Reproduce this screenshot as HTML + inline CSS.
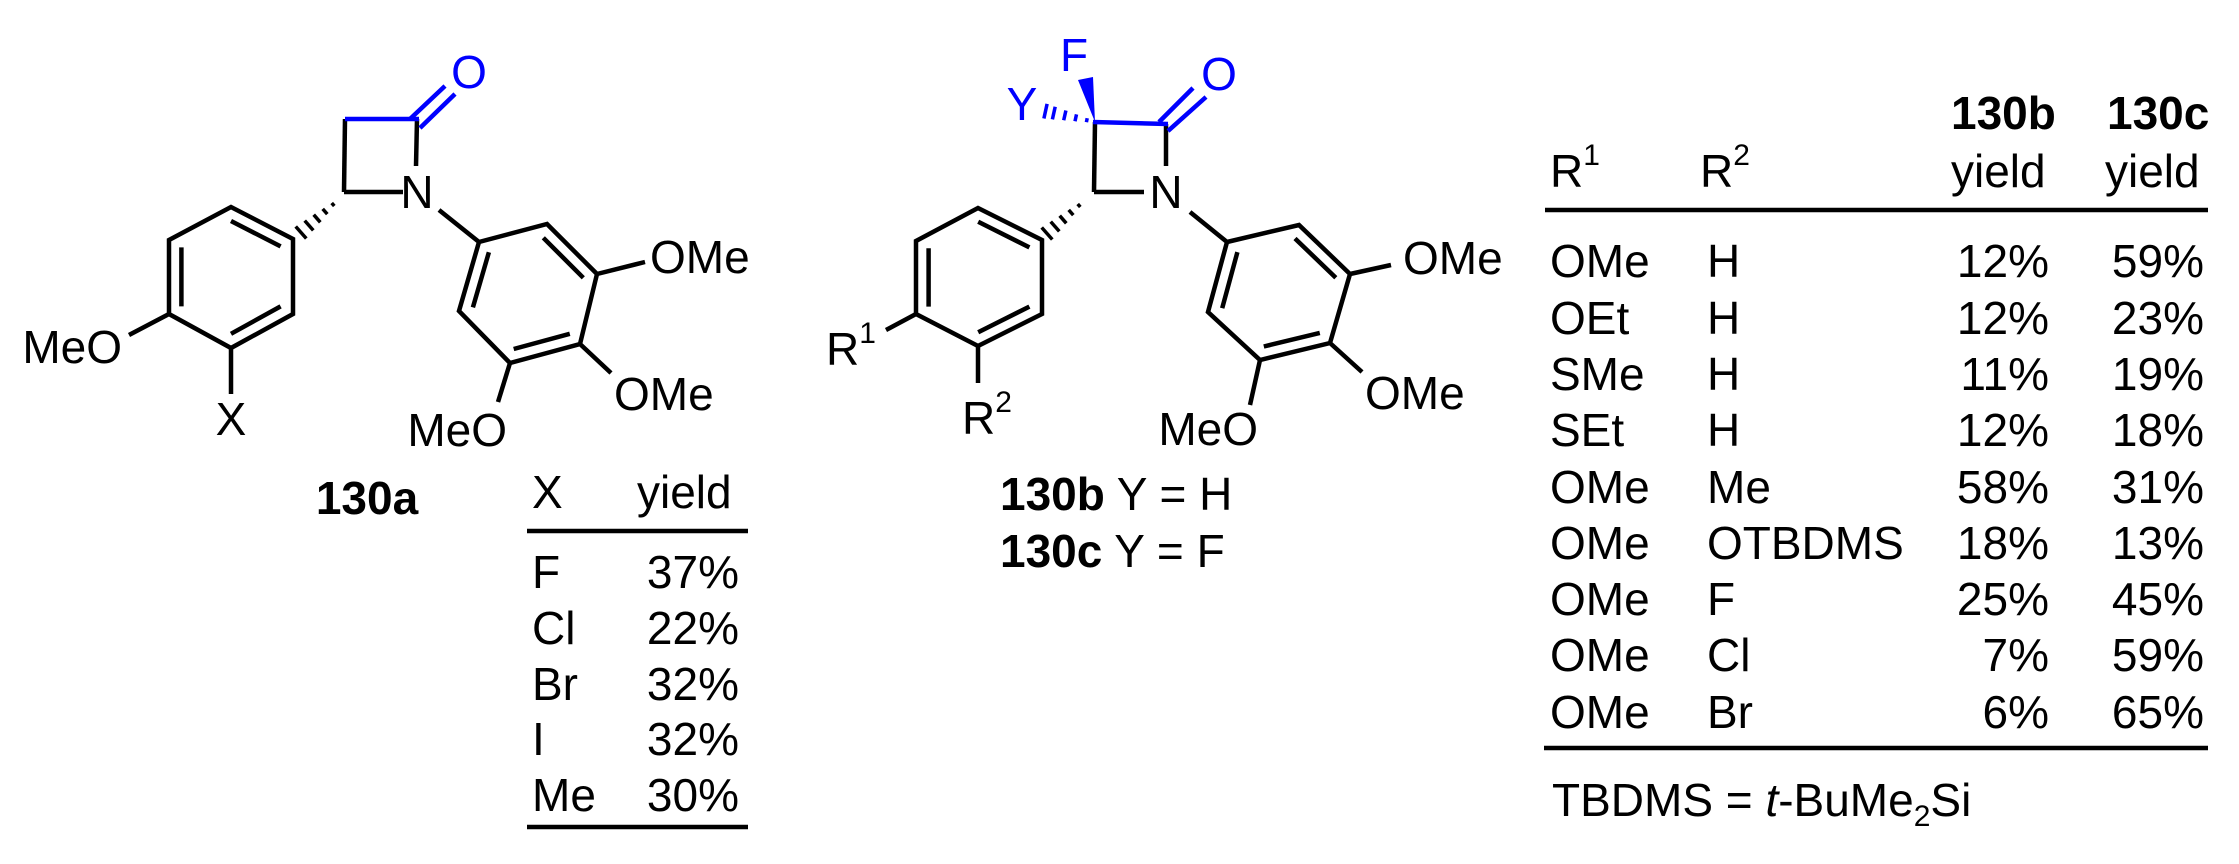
<!DOCTYPE html>
<html><head><meta charset="utf-8"><style>
html,body{margin:0;padding:0;background:#fff;}
svg{display:block;}
text{font-family:"Liberation Sans",sans-serif;font-size:46px;fill:#000;}
.b{font-weight:bold;}
.bl{fill:#0000ff;}
</style></head><body>
<svg width="2239" height="864" viewBox="0 0 2239 864" xmlns="http://www.w3.org/2000/svg">
<g stroke="#000" stroke-width="4.5" stroke-linecap="butt" fill="none">
<!-- Molecule 1 -->
<line x1="345" y1="119" x2="344" y2="192"/>
<line x1="344" y1="192" x2="403" y2="192"/>
<line x1="417" y1="119" x2="416" y2="166"/>
<polygon points="293,239 231,207 169,240 169,314 231,348 293,314" stroke-linejoin="miter"/>
<line x1="231" y1="221" x2="280.6" y2="246.4"/>
<line x1="181.4" y1="247.4" x2="181.4" y2="306.4"/>
<line x1="231" y1="333.8" x2="280.6" y2="306.4"/>
<line x1="169" y1="314" x2="129" y2="335"/>
<line x1="231" y1="348" x2="231" y2="394"/>
<line x1="439" y1="210" x2="479" y2="242"/>
<polygon points="479,242 547,224 597,274 580,344 510,363 459,311"/>
<line x1="543.3" y1="237.8" x2="583.3" y2="277.8"/>
<line x1="488.9" y1="252.2" x2="472.9" y2="307.4"/>
<line x1="513.7" y1="349" x2="569.8" y2="333.8"/>
<line x1="597" y1="274" x2="645" y2="262"/>
<line x1="580" y1="344" x2="611" y2="373"/>
<line x1="510" y1="363" x2="498" y2="402"/>
<g id="hash1" stroke-width="3.5">
<line x1="331.7" y1="203" x2="334.3" y2="206"/>
<line x1="322.7" y1="208.9" x2="327.3" y2="214.1"/>
<line x1="313.7" y1="214.7" x2="320.3" y2="222.3"/>
<line x1="304.7" y1="220.6" x2="313.3" y2="230.4"/>
<line x1="295.7" y1="226.5" x2="306.3" y2="238.5"/>
</g>
<!-- Molecule 2 -->
<line x1="1095" y1="122" x2="1094" y2="192"/>
<line x1="1094" y1="192" x2="1144" y2="192"/>
<line x1="1166" y1="124" x2="1166" y2="166"/>
<polygon points="1042,240 978,208 916,241 916,314 978,346 1042,314"/>
<line x1="978.2" y1="221.8" x2="1029.4" y2="247.4"/>
<line x1="928.6" y1="248.2" x2="928.6" y2="306.6"/>
<line x1="978.2" y1="332.2" x2="1029.4" y2="306.6"/>
<line x1="916" y1="314" x2="886" y2="330"/>
<line x1="978" y1="346" x2="978" y2="383"/>
<line x1="1190" y1="212" x2="1227" y2="242"/>
<polygon points="1227,242 1299,225 1350,274 1330,343 1260,360 1208,312"/>
<line x1="1295" y1="238.5" x2="1335.8" y2="277.7"/>
<line x1="1237.4" y1="252.1" x2="1222.2" y2="308.2"/>
<line x1="1263.8" y1="346.5" x2="1319.8" y2="332.9"/>
<line x1="1350" y1="274" x2="1391" y2="265"/>
<line x1="1330" y1="343" x2="1362" y2="372"/>
<line x1="1260" y1="360" x2="1250" y2="405"/>
<use href="#hash1" transform="translate(746,1)"/>
</g>
<g stroke="#0000ff" stroke-width="4.5" fill="none">
<line x1="345" y1="119" x2="419" y2="119"/>
<line x1="410" y1="119" x2="445" y2="86"/>
<line x1="420" y1="128" x2="455" y2="94"/>
<line x1="1093" y1="122" x2="1168" y2="124"/>
<line x1="1159" y1="122" x2="1193" y2="88"/>
<line x1="1168" y1="131" x2="1206" y2="97"/>
<g stroke-width="3.5">
<line x1="1086.4" y1="122.2" x2="1087.2" y2="118.2"/>
<line x1="1075" y1="121.2" x2="1076.5" y2="114.4"/>
<line x1="1063.7" y1="120.3" x2="1065.9" y2="110.5"/>
<line x1="1052.4" y1="119.4" x2="1055.2" y2="106.7"/>
<line x1="1043.9" y1="118.5" x2="1047.1" y2="103.9"/>
</g>
</g>
<polygon points="1095,122 1078,80 1093,77" fill="#0000ff"/>
<!-- Mol 1 text -->
<text x="469" y="88" text-anchor="middle" class="bl">O</text>
<text x="417" y="208" text-anchor="middle">N</text>
<text x="122" y="363" text-anchor="end">MeO</text>
<text x="231" y="435" text-anchor="middle">X</text>
<text x="650" y="273">OMe</text>
<text x="614" y="410">OMe</text>
<text x="507" y="446" text-anchor="end">MeO</text>
<text x="367" y="514" text-anchor="middle" class="b">130a</text>
<!-- Table 1 -->
<text x="532" y="508">X</text>
<text x="637" y="508">yield</text>
<line x1="527" y1="531" x2="748" y2="531" stroke="#000" stroke-width="4.5"/>
<text x="532" y="588">F</text><text x="739" y="588" text-anchor="end">37%</text>
<text x="532" y="644">Cl</text><text x="739" y="644" text-anchor="end">22%</text>
<text x="532" y="700">Br</text><text x="739" y="700" text-anchor="end">32%</text>
<text x="532" y="755">I</text><text x="739" y="755" text-anchor="end">32%</text>
<text x="532" y="811">Me</text><text x="739" y="811" text-anchor="end">30%</text>
<line x1="527" y1="827" x2="748" y2="827" stroke="#000" stroke-width="4.5"/>
<!-- Mol 2 text -->
<text x="1074" y="71" text-anchor="middle" class="bl">F</text>
<text x="1022" y="120" text-anchor="middle" class="bl">Y</text>
<text x="1219" y="90" text-anchor="middle" class="bl">O</text>
<text x="1166" y="208" text-anchor="middle">N</text>
<text x="826" y="365">R<tspan dy="-22" font-size="30">1</tspan></text>
<text x="962" y="434">R<tspan dy="-22" font-size="30">2</tspan></text>
<text x="1403" y="274">OMe</text>
<text x="1365" y="409">OMe</text>
<text x="1258" y="445" text-anchor="end">MeO</text>
<text x="1000" y="510"><tspan class="b">130b</tspan> Y = H</text>
<text x="1000" y="567"><tspan class="b">130c</tspan> Y = F</text>
<!-- Table 2 -->
<text x="1951" y="129" class="b">130b</text>
<text x="2107" y="129" class="b">130c</text>
<text x="1550" y="187">R<tspan dy="-22" font-size="30">1</tspan></text>
<text x="1700" y="187">R<tspan dy="-22" font-size="30">2</tspan></text>
<text x="1951" y="187">yield</text>
<text x="2105" y="187">yield</text>
<line x1="1545" y1="210" x2="2208" y2="210" stroke="#000" stroke-width="4.5"/>
<g>
<text x="1550" y="277">OMe</text><text x="1707" y="277">H</text><text x="2049" y="277" text-anchor="end">12%</text><text x="2204" y="277" text-anchor="end">59%</text>
<text x="1550" y="334">OEt</text><text x="1707" y="334">H</text><text x="2049" y="334" text-anchor="end">12%</text><text x="2204" y="334" text-anchor="end">23%</text>
<text x="1550" y="390">SMe</text><text x="1707" y="390">H</text><text x="2049" y="390" text-anchor="end">11%</text><text x="2204" y="390" text-anchor="end">19%</text>
<text x="1550" y="446">SEt</text><text x="1707" y="446">H</text><text x="2049" y="446" text-anchor="end">12%</text><text x="2204" y="446" text-anchor="end">18%</text>
<text x="1550" y="503">OMe</text><text x="1707" y="503">Me</text><text x="2049" y="503" text-anchor="end">58%</text><text x="2204" y="503" text-anchor="end">31%</text>
<text x="1550" y="559">OMe</text><text x="1707" y="559">OTBDMS</text><text x="2049" y="559" text-anchor="end">18%</text><text x="2204" y="559" text-anchor="end">13%</text>
<text x="1550" y="615">OMe</text><text x="1707" y="615">F</text><text x="2049" y="615" text-anchor="end">25%</text><text x="2204" y="615" text-anchor="end">45%</text>
<text x="1550" y="671">OMe</text><text x="1707" y="671">Cl</text><text x="2049" y="671" text-anchor="end">7%</text><text x="2204" y="671" text-anchor="end">59%</text>
<text x="1550" y="728">OMe</text><text x="1707" y="728">Br</text><text x="2049" y="728" text-anchor="end">6%</text><text x="2204" y="728" text-anchor="end">65%</text>
</g>
<line x1="1544" y1="748" x2="2208" y2="748" stroke="#000" stroke-width="4.5"/>
<text x="1552" y="816">TBDMS = <tspan font-style="italic">t</tspan>-BuMe<tspan font-size="30" dy="10">2</tspan><tspan dy="-10">Si</tspan></text>
</svg>
</body></html>
